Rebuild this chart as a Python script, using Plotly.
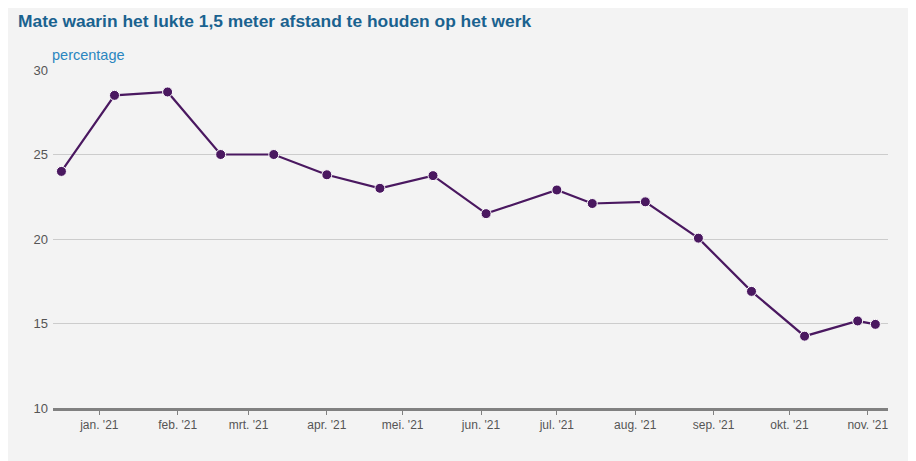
import plotly.graph_objects as go

dates = ["2020-12-17", "2021-01-07", "2021-01-28", "2021-02-18", "2021-03-11",
         "2021-04-01", "2021-04-22", "2021-05-13", "2021-06-03", "2021-07-01",
         "2021-07-15", "2021-08-05", "2021-08-26", "2021-09-16", "2021-10-07",
         "2021-10-28", "2021-11-04"]
values = [24.0, 28.5, 28.7, 25.0, 25.0, 23.8, 23.0, 23.75, 21.5, 22.9,
          22.1, 22.2, 20.05, 16.9, 14.25, 15.15, 14.95]

tick_vals = ["2021-01-01", "2021-02-01", "2021-03-01", "2021-04-01", "2021-05-01",
             "2021-06-01", "2021-07-01", "2021-08-01", "2021-09-01", "2021-10-01",
             "2021-11-01"]
tick_text = ["jan. '21", "feb. '21", "mrt. '21", "apr. '21", "mei. '21", "jun. '21",
             "jul. '21", "aug. '21", "sep. '21", "okt. '21", "nov. '21"]

title = "Mate waarin het lukte 1,5 meter afstand te houden op het werk"
y_label = "percentage"

fig = go.Figure()
fig.add_trace(go.Scatter(
    x=dates, y=values, mode="lines+markers",
    line=dict(color="#4a1860", width=2.2),
    marker=dict(size=10, color="#4a1860", line=dict(color="#ffffff", width=1)),
    showlegend=False, hoverinfo="x+y",
))

fig.update_layout(
    width=916, height=461,
    paper_bgcolor="#f3f3f3", plot_bgcolor="#f3f3f3",
    margin=dict(l=45, r=36, t=62, b=61),
    font=dict(family="Liberation Sans, Arial, sans-serif", color="#555555"),
    title=dict(text="<b>" + title + "</b>", x=10 / 916, xref="container", xanchor="left",
               y=1 - 13 / 461, yref="container", yanchor="middle",
               font=dict(size=17.4, color="#1a628f"), pad=dict(l=0)),
    xaxis=dict(
        type="date", range=["2020-12-13 16:00", "2021-11-09"],
        tickvals=tick_vals, ticktext=tick_text,
        showgrid=False, zeroline=False,
        showline=True, linecolor="#808080", linewidth=2.5,
        ticks="outside", ticklen=4, tickcolor="#808080", tickwidth=1,
        tickfont=dict(size=12, color="#555555"),
    ),
    yaxis=dict(
        range=[10, 30], tickvals=[10, 15, 20, 25, 30],
        showgrid=True, gridcolor="#cccccc", gridwidth=1,
        zeroline=False, showline=False, ticks="",
        ticklabelstandoff=4,
        tickfont=dict(size=13, color="#555555"),
    ),
)

fig.add_annotation(text=y_label, xref="paper", yref="paper", x=0, y=1,
                   xanchor="left", yanchor="bottom", xshift=-3, yshift=5, showarrow=False,
                   font=dict(size=14.5, color="#2a86c0"))

fig.write_html("out.html")
